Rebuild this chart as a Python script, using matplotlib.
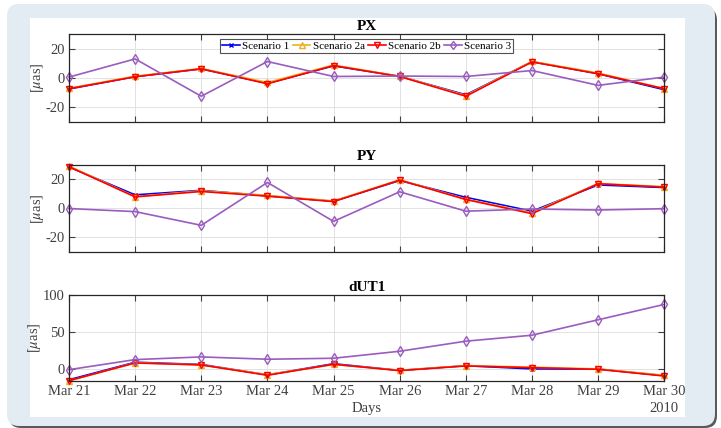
import matplotlib
matplotlib.use("Agg")
import matplotlib.pyplot as plt
from matplotlib.patches import FancyBboxPatch, Rectangle
from matplotlib.transforms import IdentityTransform

plt.rcParams["font.family"] = ["Liberation Serif", "DejaVu Serif"]
plt.rcParams["mathtext.fontset"] = "stix"
plt.rcParams["axes.unicode_minus"] = False

# ── data ─────────────────────────────────────────────
days = ["Mar 21", "Mar 22", "Mar 23", "Mar 24", "Mar 25",
        "Mar 26", "Mar 27", "Mar 28", "Mar 29", "Mar 30"]

px_s1  = [-7.5, 1.0, 6.3, -3.6, 8.4, 1.2, -11.5, 11.3, 3.0, -8.0]
px_s2a = [-7.0, 1.3, 6.6, -3.0, 9.0, 1.3, -12.0, 11.5, 3.5, -7.2]
px_s2b = [-7.3, 0.9, 6.4, -3.9, 8.6, 1.1, -12.5, 11.1, 3.0, -7.3]
px_s3  = [0.7, 13.2, -12.5, 11.4, 1.1, 1.4, 1.1, 5.2, -5.0, 0.7]

py_s1  = [28.3, 9.2, 12.3, 8.5, 4.8, 19.0, 7.5, -2.0, 16.0, 14.2]
py_s2a = [29.0, 8.0, 12.0, 8.8, 5.0, 19.5, 6.3, -3.0, 17.0, 14.8]
py_s2b = [28.5, 7.8, 11.5, 8.3, 4.6, 19.3, 6.0, -3.7, 16.8, 14.5]
py_s3  = [-0.2, -2.3, -11.7, 17.7, -9.0, 11.3, -2.0, -0.5, -1.2, -0.3]

ut_s1  = [-14.0, 9.5, 6.5, -7.5, 7.5, -1.5, 4.8, 0.5, 0.3, -8.5]
ut_s2a = [-15.5, 8.8, 6.0, -7.2, 6.5, -1.3, 5.0, 2.8, 0.5, -8.0]
ut_s2b = [-15.2, 8.5, 5.8, -8.0, 6.7, -1.8, 4.5, 2.2, 0.0, -9.0]
ut_s3  = [-0.5, 13.0, 16.6, 13.5, 14.8, 24.2, 37.7, 45.7, 66.4, 87.0]

labels = ["Scenario 1", "Scenario 2a", "Scenario 2b", "Scenario 3"]

# ── styles ───────────────────────────────────────────
C1, C2A, C2B, C3 = "#0000ff", "#EDB120", "#ff0000", "#9a5cbf"
TXT = "#404040"
estilos = [
    dict(color=C1, marker="x", ms=3.5, mew=1.0),
    dict(color=C2A, marker="^", ms=5, mfc="none", mew=1.0),
    dict(color=C2B, marker="v", ms=5, mfc="none", mew=1.0),
    dict(color=C3, marker="d", ms=5.5, mfc="none", mew=1.0),
]

fig = plt.figure(figsize=(7.21, 4.28), dpi=100, facecolor="white")

# fundo: moldura azul clara com sombra
fig.patches.append(FancyBboxPatch((9, 0), 708, 420, boxstyle="round,pad=0,rounding_size=12",
                                  transform=IdentityTransform(), facecolor="#5a5a5a",
                                  edgecolor="none", zorder=-3))
fig.patches.append(FancyBboxPatch((7, 2), 708, 422, boxstyle="round,pad=0,rounding_size=12",
                                  transform=IdentityTransform(), facecolor="#e3ebf3",
                                  edgecolor="none", zorder=-2))
fig.patches.append(Rectangle((30, 11), 655, 399, transform=IdentityTransform(),
                             facecolor="white", edgecolor="none", zorder=-1))

posicoes = [
    [0.0957, 0.7157, 0.8256, 0.2037],
    [0.0957, 0.4112, 0.8256, 0.2044],
    [0.0957, 0.1105, 0.8256, 0.2009],
]
titulos = ["PX", "PY", "dUT1"]
series = [
    [px_s1, px_s2a, px_s2b, px_s3],
    [py_s1, py_s2a, py_s2b, py_s3],
    [ut_s1, ut_s2a, ut_s2b, ut_s3],
]
ylims = [(-30, 30), (-30, 30), (-15.3, 100)]
yticks = [[-20, 0, 20], [-20, 0, 20], [0, 50, 100]]

x = list(range(len(days)))
axes = []
for i in range(3):
    ax = fig.add_axes(posicoes[i])
    axes.append(ax)
    for s, est, lbl in zip(series[i], estilos, labels):
        ax.plot(x, s, lw=1.2, label=lbl, clip_on=False, **est)
    ax.set_xlim(0, len(days) - 1)
    ax.set_ylim(*ylims[i])
    ax.set_yticks(yticks[i])
    ax.set_xticks(x)
    ax.grid(True, color="#e2e2e2", lw=0.7)
    ax.set_axisbelow(True)
    ax.tick_params(direction="in", top=True, right=True, length=4,
                   labelsize=10.5, colors=TXT, width=0.8, pad=3)
    for sp in ax.spines.values():
        sp.set_color("#262626")
        sp.set_linewidth(0.9)
    ax.set_title(titulos[i], fontsize=11, fontweight="bold", pad=3)
    ax.set_ylabel(r"[$\mu$as]", fontsize=10.5, color=TXT, labelpad=0)
    if i < 2:
        ax.set_xticklabels([])
    else:
        ax.set_xticklabels(days)
        ax.set_xlabel("Days", fontsize=10.5, color=TXT, labelpad=3)

axes[2].text(1.0, -0.25, "2010", transform=axes[2].transAxes, ha="center",
             va="top", fontsize=10.5, color=TXT)

leg = axes[0].legend(loc="upper center", bbox_to_anchor=(0.5, 0.95), ncol=4,
                     fontsize=8, frameon=True, fancybox=False, edgecolor="#262626",
                     handlelength=1.6, handletextpad=0.2, columnspacing=0.3,
                     borderpad=0.2, borderaxespad=0, markerscale=0.8)
leg.get_frame().set_linewidth(0.8)

fig.savefig("out.png", dpi=100, facecolor="white")
